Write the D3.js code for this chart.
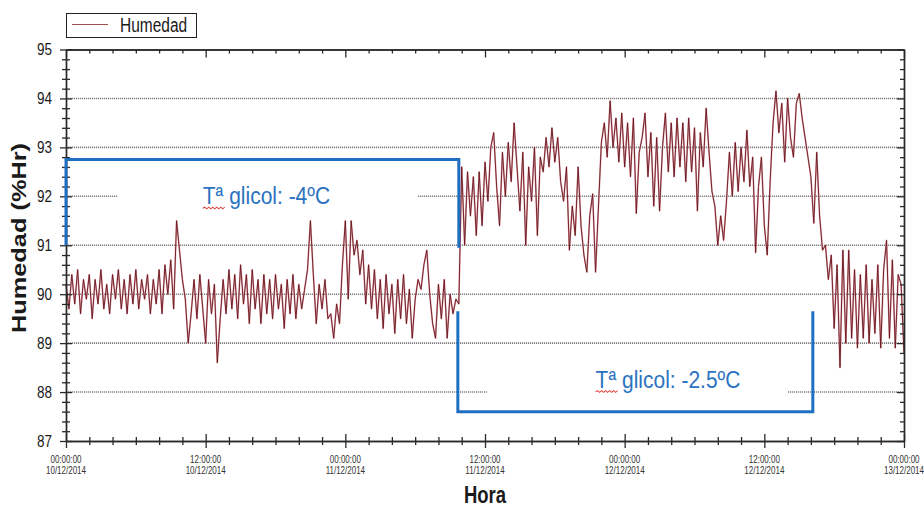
<!DOCTYPE html>
<html><head><meta charset="utf-8">
<script src="https://cdn.jsdelivr.net/npm/d3@7"></script>
<style>body{margin:0;background:#fff}svg{display:block}</style>
</head><body>
<svg id="c" width="924" height="509"></svg>
<script>
// ---- data ----
const startTime = "2014-12-10T00:00:00";
const stepMinutes = 15;
const humedad = [
90.2,89.7,90.4,89.8,90.5,89.6,90.3,89.9,90.4,89.5,
90.3,89.8,90.5,89.7,90.2,89.6,90.4,89.9,90.5,89.7,
90.3,89.6,90.4,89.8,90.5,89.7,90.3,89.9,90.4,89.6,
90.3,89.8,90.5,89.6,90.6,90.0,90.7,89.7,
91.5,90.9,90.3,
89.9,89.0,89.6,90.3,89.5,90.4,89.7,89.0,90.3,89.6,90.2,88.6,89.5,90.3,
89.6,90.5,89.7,90.4,89.5,90.6,89.8,90.4,89.4,90.5,89.7,90.3,
89.4,90.4,89.6,90.3,89.5,90.4,89.7,90.2,89.3,90.3,89.6,90.4,89.5,90.2,89.7,90.1,90.5,
91.5,90.4,89.4,90.2,89.7,90.3,89.5,
89.6,89.1,89.8,89.4,90.6,
91.5,89.9,91.5,90.8,91.1,90.4,90.9,89.8,90.6,89.7,90.5,89.5,
90.3,89.3,90.4,89.6,90.2,89.2,90.3,89.5,90.4,89.4,90.1,89.1,
89.9,90.3,90.1,90.6,90.9,
90.0,89.4,89.1,90.2,89.5,90.3,89.1,90.0,89.6,
89.9,89.8,
92.6,91.0,92.5,91.6,92.4,91.2,92.5,91.4,
92.7,91.9,93.0,93.3,92.2,91.4,92.9,92.0,93.1,92.3,
93.5,92.6,91.7,92.9,91.0,92.6,91.9,93.0,91.2,92.8,
92.5,93.2,92.6,93.4,92.7,93.2,
92.3,91.9,92.6,90.9,91.8,91.2,92.6,91.4,90.8,
90.45,91.6,92.05,90.45,91.8,93.1,
93.5,92.8,93.95,93.0,93.6,92.7,93.7,
92.6,93.5,92.4,93.6,91.65,92.9,93.2,93.7,
92.4,93.3,91.8,93.2,91.7,93.0,93.7,92.5,93.5,
92.4,93.6,92.6,93.5,92.3,93.6,92.5,93.4,91.7,93.3,92.6,93.8,92.9,
92.1,91.8,91.0,91.6,91.1,
91.9,92.9,92.0,93.1,92.1,93.0,92.3,93.35,
92.2,92.8,90.85,92.2,92.8,91.4,90.8,
92.3,93.5,94.15,
93.3,93.9,92.7,94.0,93.2,92.8,93.9,94.1,93.6,
93.2,92.8,92.4,91.45,92.9,
91.6,90.9,91.0,90.3,90.8,89.3,90.6,
88.5,90.9,89.0,90.9,89.1,90.5,88.9,90.4,89.1,90.6,89.0,90.3,89.2,90.6,88.9,90.5,91.1,89.1,90.7,88.9,90.4,90.2,88.8
];
const yTicks = [87,88,89,90,91,92,93,94,95];
const xTickTimes = ["2014-12-10T00:00:00","2014-12-10T12:00:00","2014-12-11T00:00:00","2014-12-11T12:00:00","2014-12-12T00:00:00","2014-12-12T12:00:00","2014-12-13T00:00:00"];
const xTickLabels = [["00:00:00","10/12/2014"],["12:00:00","10/12/2014"],["00:00:00","11/12/2014"],["12:00:00","11/12/2014"],["00:00:00","12/12/2014"],["12:00:00","12/12/2014"],["00:00:00","13/12/2014"]];
const periods = [
  {label:"Tª glicol: -4ºC", from:"2014-12-10T00:00:00", to:"2014-12-11T09:45:00", level:92.75, end:[91.0, 90.95], textAt:"2014-12-10T11:45:00", textY:92.0},
  {label:"Tª glicol: -2.5ºC", from:"2014-12-11T09:40:00", to:"2014-12-12T16:10:00", level:87.6, end:[89.65, 89.65], textAt:"2014-12-11T21:30:00", textY:88.25}
];
const seriesName = "Humedad";
const yTitle = "Humedad (%Hr)";
const xTitle = "Hora";

// ---- chart ----
const svg = d3.select("#c");
const L = 66, R = 904, T = 49.5, B = 441;
const parse = d3.isoParse;
const t0 = parse(startTime);
const times = humedad.map((v,i) => new Date(t0.getTime() + i*stepMinutes*60000));
const x = d3.scaleTime().domain([parse(xTickTimes[0]), parse(xTickTimes[xTickTimes.length-1])]).range([L, R]);
const y = d3.scaleLinear().domain([87, 95]).range([B, T]);
const blue = "#1f6fc1";
const axisCol = "#2a2a2a";

// gridlines
const grid = svg.append("g");
grid.selectAll("line").data(yTicks.filter(v => v > 87 && v < 95)).join("line")
  .attr("x1", L).attr("x2", R).attr("y1", d => y(d)).attr("y2", d => y(d))
  .attr("stroke", "#808080").attr("stroke-width", 1.6).attr("stroke-dasharray", "1.2,0.8");

// white boxes behind annotation texts (they hide gridline parts)
svg.append("rect").attr("x", 118).attr("y", y(92)-12).attr("width", 300).attr("height", 24).attr("fill", "#fff");
svg.append("rect").attr("x", 487).attr("y", y(88)-9).attr("width", 300).attr("height", 18).attr("fill", "#fff");

// data line
const line = d3.line().x((d,i) => x(times[i])).y(d => y(d));
svg.append("path").datum(humedad).attr("d", line).attr("fill", "none")
  .attr("stroke", "#dc9094").attr("stroke-width", 1.7).attr("stroke-opacity", 0.8).attr("stroke-linejoin", "round");
svg.append("path").datum(humedad).attr("d", line).attr("fill", "none")
  .attr("stroke", "#661520").attr("stroke-width", 0.9).attr("stroke-linejoin", "round");

// axes
function styleAxis(g){ g.select(".domain").attr("stroke", axisCol).attr("stroke-width", 1.4);
  g.selectAll(".tick line").attr("stroke", axisCol).attr("stroke-width", 1.3); g.selectAll("text").remove(); }
const majorX = xTickTimes.map(parse);
const minorX = d3.timeHour.every(2).range(majorX[0], majorX[6]).filter(d => d.getHours() % 12 !== 0);
const minorY = d3.range(87, 95.001, 0.2).map(v => +v.toFixed(1)).filter(v => !yTicks.includes(v));

// bottom
const gB = svg.append("g").attr("transform", `translate(0,${B})`);
gB.append("g").call(d3.axisBottom(x).tickValues(minorX).tickSize(4).tickSizeOuter(0)).call(styleAxis)
  .selectAll(".tick line").attr("y1", -4);
gB.append("g").call(d3.axisBottom(x).tickValues(majorX).tickSize(7).tickSizeOuter(0)).call(styleAxis)
  .selectAll(".tick line").attr("y1", -7);
// top
const gT = svg.append("g").attr("transform", `translate(0,${T})`);
gT.append("g").call(d3.axisBottom(x).tickValues(minorX).tickSize(4).tickSizeOuter(0)).call(styleAxis);
gT.append("g").call(d3.axisBottom(x).tickValues(majorX).tickSize(8).tickSizeOuter(0)).call(styleAxis);
// left
const gLft = svg.append("g").attr("transform", `translate(${L},0)`);
gLft.append("g").call(d3.axisLeft(y).tickValues(minorY).tickSize(4).tickSizeOuter(0)).call(styleAxis)
  .selectAll(".tick line").attr("x2", 4).attr("x1", -4);
gLft.append("g").call(d3.axisLeft(y).tickValues(yTicks).tickSize(6).tickSizeOuter(0)).call(styleAxis)
  .selectAll(".tick line").attr("x2", 6).attr("x1", -6);
// right
const gR = svg.append("g").attr("transform", `translate(${R},0)`);
gR.append("g").call(d3.axisRight(y).tickValues(minorY).tickSize(-4).tickSizeOuter(0)).call(styleAxis);
gR.append("g").call(d3.axisRight(y).tickValues(yTicks).tickSize(-7).tickSizeOuter(0)).call(styleAxis);

// y tick labels
yTicks.forEach(v => {
  svg.append("g").attr("transform", `translate(52,${y(v)+5.5}) scale(1,1.2)`)
    .append("text").attr("text-anchor", "end").attr("font-family", "Liberation Sans, Arial, sans-serif")
    .attr("font-size", 13.5).attr("fill", "#1a1a1a").text(v);
});
// x tick labels
xTickLabels.forEach((lab, i) => {
  const g = svg.append("g").attr("transform", `translate(${x(majorX[i])},0)`);
  lab.forEach((s, k) => {
    g.append("g").attr("transform", `translate(0,${463 + k*11}) scale(1,1.3)`)
      .append("text").attr("text-anchor", "middle").attr("font-family", "Liberation Sans, Arial, sans-serif")
      .attr("font-size", 8).attr("fill", "#333").text(s);
  });
});

// titles
svg.append("g").attr("transform", `translate(485,503) scale(1,1.28)`)
  .append("text").attr("text-anchor", "middle").attr("font-family", "Liberation Sans, Arial, sans-serif")
  .attr("font-weight", "bold").attr("font-size", 18.5).attr("fill", "#1a1a1a").text(xTitle);
svg.append("g").attr("transform", `translate(26,238) rotate(-90) scale(1.3,1)`)
  .append("text").attr("text-anchor", "middle").attr("font-family", "Liberation Sans, Arial, sans-serif")
  .attr("font-weight", "bold").attr("font-size", 19.5).attr("fill", "#1a1a1a").text(yTitle);

// legend
svg.append("rect").attr("x", 66.5).attr("y", 13.5).attr("width", 130).attr("height", 24)
  .attr("fill", "#fff").attr("stroke", "#222").attr("stroke-width", 1);
svg.append("line").attr("x1", 72).attr("x2", 108).attr("y1", 24.5).attr("y2", 24.5)
  .attr("stroke", "#a0504f").attr("stroke-width", 1.2);
svg.append("g").attr("transform", `translate(120,32) scale(1,1.3)`)
  .append("text").attr("font-family", "Liberation Sans, Arial, sans-serif").attr("font-size", 15.5)
  .attr("fill", "#1a1a1a").text(seriesName);

// period brackets & labels
periods.forEach(p => {
  const x1 = x(parse(p.from)), x2 = x(parse(p.to)), yl = y(p.level);
  svg.append("path").attr("d", `M${x1},${y(p.end[0])}V${yl}H${x2}V${y(p.end[1])}`)
    .attr("fill", "none").attr("stroke", blue).attr("stroke-width", 3);
  const tx = x(parse(p.textAt)), ty = y(p.textY) + 8;
  const g = svg.append("g").attr("transform", `translate(${tx},${ty}) scale(1,1.15)`);
  g.append("text").attr("font-family", "Liberation Sans, Arial, sans-serif").attr("font-size", 21)
    .attr("fill", "#2b72c0").text(p.label);
  // spell-check style underline under "Tª"
  let d = "M0,3.5";
  for (let k = 1; k <= 11; k++) d += `L${k*2},${k % 2 ? 2.5 : 4}`;
  g.append("path").attr("d", d).attr("fill", "none").attr("stroke", "#e0403a").attr("stroke-width", 0.9);
});
</script>
</body></html>
